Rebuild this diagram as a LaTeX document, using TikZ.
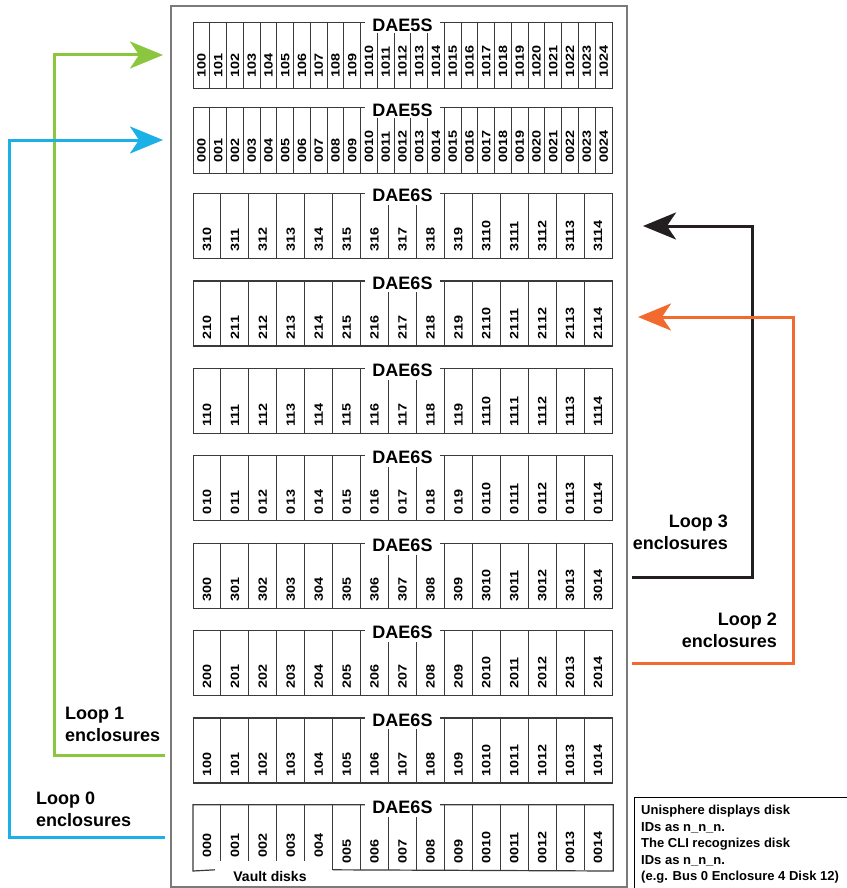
\documentclass[tikz,border=0pt]{standalone}
\usepackage{graphicx}
\usepackage{fontspec}
\setmainfont{Liberation Sans}
\usetikzlibrary{arrows.meta,calc}
\definecolor{lgreen}{HTML}{8CC63F}
\definecolor{lblue}{HTML}{1BB0E6}
\definecolor{lorange}{HTML}{F26A2E}
\definecolor{lblack}{HTML}{231F20}
\definecolor{rackgray}{HTML}{7A7A7A}
\definecolor{enclgray}{HTML}{3A3A3A}
\begin{document}
\begin{tikzpicture}[x=1pt,y=-1pt,
  rackbox/.style={draw=rackgray,line width=1.8pt,fill=white,inner sep=0pt,anchor=north west},
  enclbox/.style={draw=enclgray,line width=1.2pt,inner sep=0pt,anchor=north west},
  divider/.style={draw=enclgray,line width=1pt},
  titlelbl/.style={fill=white,inner xsep=7pt,inner ysep=1pt,font=\fontsize{18}{18}\selectfont\bfseries},
  disklbl/.style={rotate=90,anchor=west,inner sep=0pt,font=\fontsize{12}{12}\selectfont\bfseries},
  looplbl/.style={inner sep=0pt,font=\fontsize{18}{22}\selectfont\bfseries},
  conn/.style={line width=3pt,-{Stealth[length=33pt,width=27pt,inset=9pt]}},
  notetxt/.style={inner sep=0pt,anchor=north west,align=left,font=\fontsize{13}{16.5}\selectfont\bfseries}
]
\useasboundingbox (0,0) rectangle (846,888);

% rack
\node[rackbox,minimum width=456pt,minimum height=881pt] (rack) at (170,5) {};

% DAE5S enclosures
\foreach \t/\p/\n in {22/10/ea,107/00/eb}{
  \node[enclbox,minimum width=419pt,minimum height=66pt] (\n) at (193,\t) {};
  \foreach \i in {1,...,10,15,16,...,24}{
    \draw[divider] ({193+\i*419/25},\t) -- ({193+\i*419/25},\t+66);
  }
  \foreach \i in {11,...,14}{
    \draw[divider] ({193+\i*419/25},\t+11) -- ({193+\i*419/25},\t+66);
  }
  \node[titlelbl] (\n-t) at (402.5,\t+3) {DAE5S};
  \foreach \i in {0,...,24}{
    \node[disklbl] (\n-d\i) at ({193+(\i+0.5)*419/25},\t+56) {\scalebox{1.2}[1]{\p\i}};
  }
}

% DAE6S enclosures (regular)
\foreach \t/\p/\n in {193.0/31/ec,280.4/21/ed,367.8/11/ee,455.2/01/ef,542.6/30/eg,630.0/20/eh,717.4/10/ei}{
  \node[enclbox,minimum width=419pt,minimum height=65pt] (\n) at (193,\t) {};
  \foreach \i in {1,...,6,9,10,...,14}{
    \draw[divider] ({193+\i*419/15},\t) -- ({193+\i*419/15},\t+65);
  }
  \foreach \i in {7,8}{
    \draw[divider] ({193+\i*419/15},\t+12) -- ({193+\i*419/15},\t+65);
  }
  \node[titlelbl] (\n-t) at (402.5,\t+2.5) {DAE6S};
  \foreach \i in {0,...,14}{
    \node[disklbl] (\n-d\i) at ({193+(\i+0.5)*419/15},\t+59) {\scalebox{1.2}[1]{\p\i}};
  }
}

% bottom DAE6S with vault disks
\node[enclbox,draw=none,minimum width=419pt,minimum height=65pt] (ej) at (193,804.8) {};
\draw[divider,line width=1.2pt] (215,869.8) -- (ej.south west) -- (ej.north west) -- (ej.north east) -- (ej.south east) -- ({193+5*419/15},869.8);
\foreach \i in {1,...,4}{
  \draw[divider] ({193+\i*419/15},804.8) -- ({193+\i*419/15},861);
}
\foreach \i in {5,6,9,10,...,14}{
  \draw[divider] ({193+\i*419/15},804.8) -- ({193+\i*419/15},869.8);
}
\foreach \i in {7,8}{
  \draw[divider] ({193+\i*419/15},816.8) -- ({193+\i*419/15},869.8);
}
\node[titlelbl] (ej-t) at (402.5,807.3) {DAE6S};
\foreach \i in {0,...,4}{
  \node[disklbl] (ej-d\i) at ({193+(\i+0.5)*419/15},858) {\scalebox{1.2}[1]{00\i}};
}
\foreach \i in {5,...,14}{
  \node[disklbl] (ej-d\i) at ({193+(\i+0.5)*419/15},864) {\scalebox{1.2}[1]{00\i}};
}
\node[inner sep=0pt,font=\fontsize{14}{14}\selectfont\bfseries] (vault) at (270,876) {Vault disks};

% loop connectors
\coordinate (gS) at (165,755); \coordinate (gA) at (54,755); \coordinate (gB) at (54,55); \coordinate (gT) at (163,55);
\draw[conn,lgreen] (gS) -- (gA) -- (gB) -- (gT);
\coordinate (bS) at (165,837); \coordinate (bA) at (9,837); \coordinate (bB) at (9,140); \coordinate (bT) at (163,140);
\draw[conn,lblue] (bS) -- (bA) -- (bB) -- (bT);
\coordinate (kS) at (632,577); \coordinate (kA) at (752,577); \coordinate (kB) at (752,226); \coordinate (kT) at (643,226);
\draw[conn,lblack] (kS) -- (kA) -- (kB) -- (kT);
\coordinate (oS) at (632,663); \coordinate (oA) at (793,663); \coordinate (oB) at (793,317); \coordinate (oT) at (638,317);
\draw[conn,lorange] (oS) -- (oA) -- (oB) -- (oT);

% loop labels
\node[looplbl,anchor=north west,align=left] (l1) at (65,707) {Loop 1\\enclosures};
\node[looplbl,anchor=north west,align=left] (l0) at (36,792) {Loop 0\\enclosures};
\node[looplbl,anchor=north east,align=right] (l3) at (728,515) {Loop 3\\enclosures};
\node[looplbl,anchor=north east,align=right] (l2) at (777,613) {Loop 2\\enclosures};

% note box
\node[draw=black,line width=1.2pt,inner sep=0pt,anchor=north west,minimum width=240pt,minimum height=120pt] (notebox) at (634,797) {};
\node[notetxt] (note) at ([xshift=7pt,yshift=-8pt]notebox.north west) {Unisphere displays disk\\IDs as n\_n\_n.\\The CLI recognizes disk\\IDs as n\_n\_n.\\(e.g. Bus 0 Enclosure 4 Disk 12)};
\end{tikzpicture}
\end{document}
